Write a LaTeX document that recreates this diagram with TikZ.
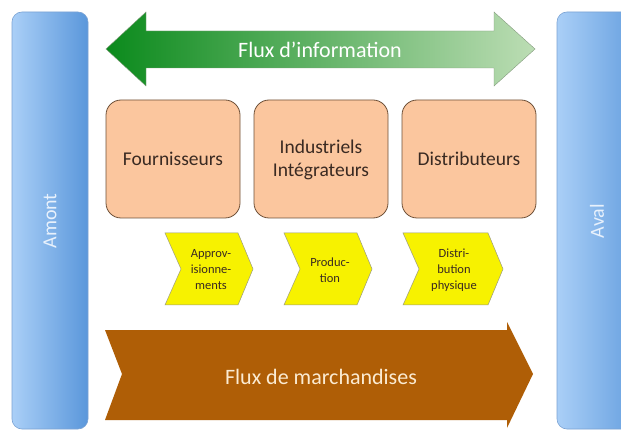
\documentclass[tikz,border=0pt]{standalone}
\usepackage{fontspec}
\setmainfont{Carlito}
\begin{document}
\begin{tikzpicture}[x=1pt,y=-1pt,
  sidebar/.style={draw=sideedge,line width=0.6pt,rounded corners=10pt,left color=sidelight,right color=sidedark},
  actor/.style={draw=actoredge,line width=0.8pt,fill=actorfill,rounded corners=15pt},
  actortext/.style={text=actortxt,font=\fontsize{19.5}{22.5}\selectfont,align=center},
  chevron/.style={draw=chevedge,line width=0.5pt,fill=chevfill},
  chevtext/.style={text=actortxt,font=\fontsize{12.5}{16}\selectfont,align=center},
  sidetext/.style={text=sidetxt,font=\fontsize{20}{24}\selectfont,rotate=90}
]
\definecolor{sidelight}{HTML}{AACFF7}
\definecolor{sidedark}{HTML}{5A97DB}
\definecolor{sideedge}{HTML}{7BA3D4}
\definecolor{sidetxt}{HTML}{E8F1FC}
\definecolor{actorfill}{HTML}{FBC69E}
\definecolor{actoredge}{HTML}{6E5038}
\definecolor{actortxt}{HTML}{3A2A22}
\definecolor{chevfill}{HTML}{F7F200}
\definecolor{chevedge}{HTML}{9A9A80}
\definecolor{infodark}{HTML}{0B8A1C}
\definecolor{infolight}{HTML}{BCDDB4}
\definecolor{goods}{HTML}{AF5E06}
\definecolor{goodstxt}{HTML}{FBEBD2}

\useasboundingbox (0,0) rectangle (621,430);
\clip (0,0) rectangle (621,430);
\fill[white] (0,0) rectangle (621,430);

% upstream / downstream bars
\path[sidebar] (12,12) rectangle (88,429);
\path[sidebar] (557,12) rectangle (650,429);
\node[sidetext] (amont) at (50,221) {Amont};
\node[sidetext] (aval) at (597,221) {Aval};

% information flow (double arrow)
\path[draw=infolight!70!black,line width=0.4pt,left color=infodark,right color=infolight]
  (106,49) -- (146,12) -- (146,31) -- (494,31) -- (494,12) -- (535,49)
  -- (494,86) -- (494,68) -- (146,68) -- (146,86) -- cycle;
\node[text=white,font=\fontsize{22}{26}\selectfont] (info) at (320,50) {Flux d’information};

% actors
\draw[actor] (106,100) rectangle (240,218);
\node[actortext] (fourn) at (173,159) {Fournisseurs};
\draw[actor] (254,100) rectangle (388,218);
\node[actortext] (indus) at (321,160) {Industriels\\Intégrateurs};
\draw[actor] (402,100) rectangle (536,218);
\node[actortext] (distr) at (469,159) {Distributeurs};

% process chevrons
\draw[chevron] (165,233) -- (238,233) -- (253,269) -- (238,305) -- (165,305) -- (181,269) -- cycle;
\node[chevtext] (appro) at (211,270) {Approv-\\isionne-\\ments};
\draw[chevron] (284,233) -- (357,233) -- (372,269) -- (357,305) -- (284,305) -- (300,269) -- cycle;
\node[chevtext] (prod) at (330,270) {Produc-\\tion};
\draw[chevron] (403,233) -- (488,233) -- (503,269) -- (488,305) -- (403,305) -- (419,269) -- cycle;
\node[chevtext] (phys) at (454,270) {Distri-\\bution\\physique};

% goods flow
\fill[goods] (105,330) -- (507,330) -- (507,322) -- (533,374) -- (507,428) -- (507,420)
  -- (105,420) -- (122,374) -- cycle;
\node[text=goodstxt,font=\fontsize{22}{26}\selectfont] (goods) at (321,377) {Flux de marchandises};
\end{tikzpicture}
\end{document}
